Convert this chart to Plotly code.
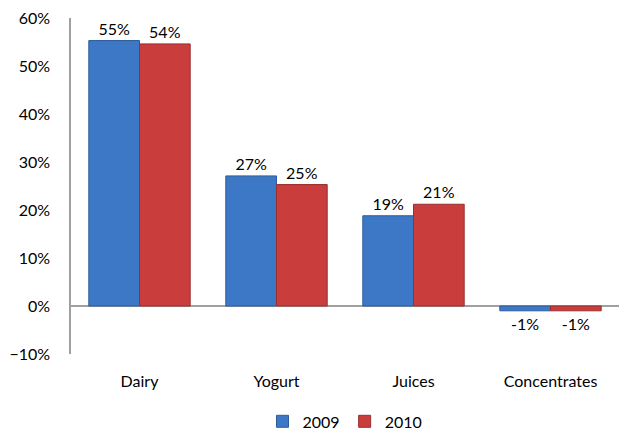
import plotly.graph_objects as go

categories = ["Dairy", "Yogurt", "Juices", "Concentrates"]
values_2009 = [0.553, 0.271, 0.188, -0.01]
values_2010 = [0.546, 0.253, 0.212, -0.01]
labels_2009 = ["55%", "27%", "19%", "-1%"]
labels_2010 = ["54%", "25%", "21%", "-1%"]
y_ticks = [-0.1, 0, 0.1, 0.2, 0.3, 0.4, 0.5, 0.6]

font_name = "Lato, Open Sans, sans-serif"

fig = go.Figure()
fig.add_trace(
    go.Bar(
        name="2009",
        x=categories,
        y=values_2009,
        text=labels_2009,
        textposition="outside",
        marker=dict(color="#3C78C6", line=dict(color="#2D5C9C", width=1)),
    )
)
fig.add_trace(
    go.Bar(
        name="2010",
        x=categories,
        y=values_2010,
        text=labels_2010,
        textposition="outside",
        marker=dict(color="#C93D3D", line=dict(color="#992E2E", width=1)),
    )
)

fig.update_traces(
    textfont=dict(family=font_name, size=16, color="#000000"),
    cliponaxis=False,
)

fig.update_layout(
    width=623,
    height=433,
    margin=dict(l=71, r=4, t=18, b=79, autoexpand=False),
    paper_bgcolor="white",
    plot_bgcolor="white",
    barmode="group",
    bargap=0.26,
    bargroupgap=0,
    font=dict(family=font_name, size=16, color="#000000"),
    showlegend=True,
    legend=dict(
        orientation="h",
        x=0.5,
        xanchor="center",
        y=-0.15,
        yanchor="top",
        font=dict(size=16),
        itemwidth=30,
    ),
)
fig.update_yaxes(
    range=[-0.1, 0.6],
    tickvals=y_ticks,
    tickformat=".0%",
    showgrid=False,
    showline=True,
    linecolor="#A0A0A0",
    linewidth=1.5,
    zeroline=True,
    zerolinecolor="#A0A0A0",
    zerolinewidth=1.5,
    ticks="",
    ticklabelstandoff=16,
    automargin=False,
)
fig.update_xaxes(
    showgrid=False,
    showline=False,
    ticks="",
    ticklabelstandoff=16,
    automargin=False,
)

# page has a default 8px body margin; drop it so the chart sits at 0,0
fig.write_html(
    "out.html",
    config={"displayModeBar": False},
    post_script="document.body.style.margin='0';",
)
